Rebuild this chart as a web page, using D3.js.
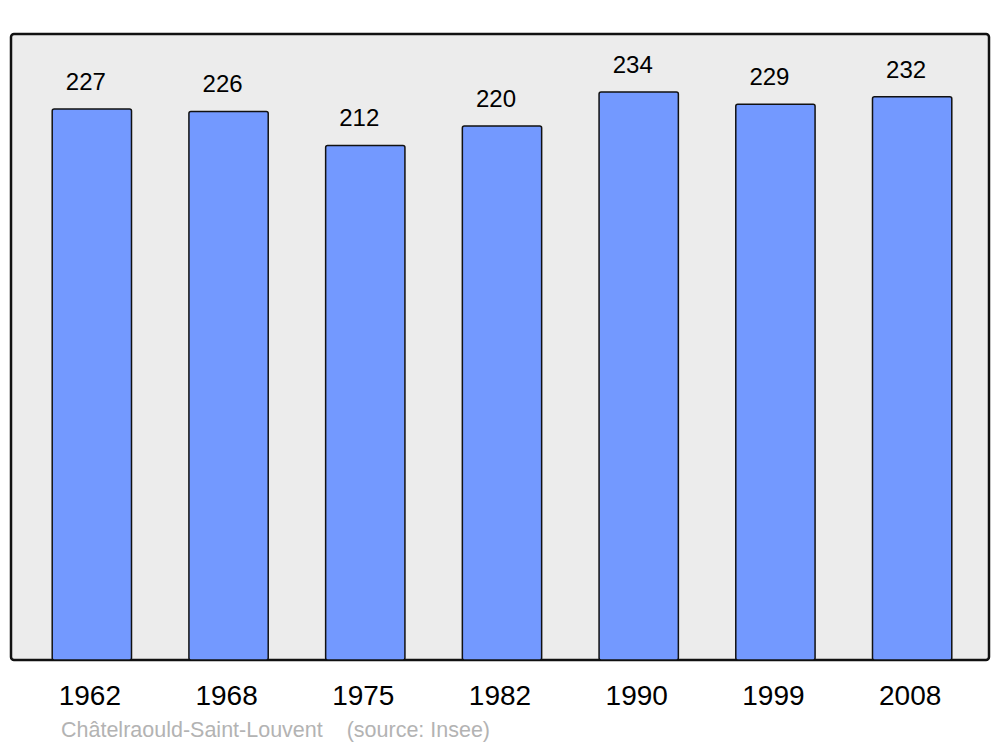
<!DOCTYPE html>
<html><head><meta charset="utf-8">
<script src="https://cdn.jsdelivr.net/npm/d3@7"></script>
<style>body{margin:0;background:#fff}svg{display:block}</style>
</head><body>
<script>
const years = ["1962","1968","1975","1982","1990","1999","2008"];
const population = [227,226,212,220,234,229,232];
const sourceText = "Châtelraould-Saint-Louvent    (source: Insee)";

const W = 1000, H = 747;
const svg = d3.select("body").append("svg").attr("width", W).attr("height", H);

const panel = {x0: 11, x1: 989, y0: 34, y1: 660};
svg.append("rect").attr("x", panel.x0).attr("y", panel.y0)
  .attr("width", panel.x1 - panel.x0).attr("height", panel.y1 - panel.y0)
  .attr("rx", 3).attr("fill", "#ececec").attr("stroke", "#111").attr("stroke-width", 2.5);

const x = d3.scaleBand().domain(years).range([23.5, 980.5]).paddingInner(0.42).paddingOuter(0.21);
const y = d3.scaleLinear().domain([0, 234]).range([660, 92]);

const g = svg.append("g");
g.selectAll("rect.bar").data(years).join("rect").attr("class","bar")
  .attr("x", d => x(d)).attr("width", x.bandwidth())
  .attr("y", (d,i) => y(population[i])).attr("height", (d,i) => y(0) - y(population[i]))
  .attr("rx", 2).attr("fill", "#7399ff").attr("stroke", "#111").attr("stroke-width", 1.5);

g.selectAll("text.val").data(years).join("text").attr("class","val")
  .attr("x", d => x(d) + x.bandwidth()/2 - 6)
  .attr("y", (d,i) => y(population[i]) - 19)
  .attr("text-anchor","middle").attr("font-family","'Liberation Sans', Arial, sans-serif")
  .attr("font-size", 24).attr("fill","#000").text((d,i) => population[i]);

const xAxis = d3.axisBottom(x).tickSize(0).tickPadding(0);
const ax = svg.append("g").attr("transform", `translate(-2,685)`).call(xAxis);
ax.select(".domain").remove();
ax.selectAll("text").attr("font-family","'Liberation Sans', Arial, sans-serif")
  .attr("font-size", 28).attr("fill","#000").attr("dy", null).attr("y", 20);

svg.append("text").attr("x", 61).attr("y", 737)
  .attr("font-family","'Liberation Sans', Arial, sans-serif").attr("font-size", 21.5)
  .attr("fill","#b3b3b3").attr("xml:space","preserve").style("white-space","pre").text(sourceText);
</script>
</body></html>
